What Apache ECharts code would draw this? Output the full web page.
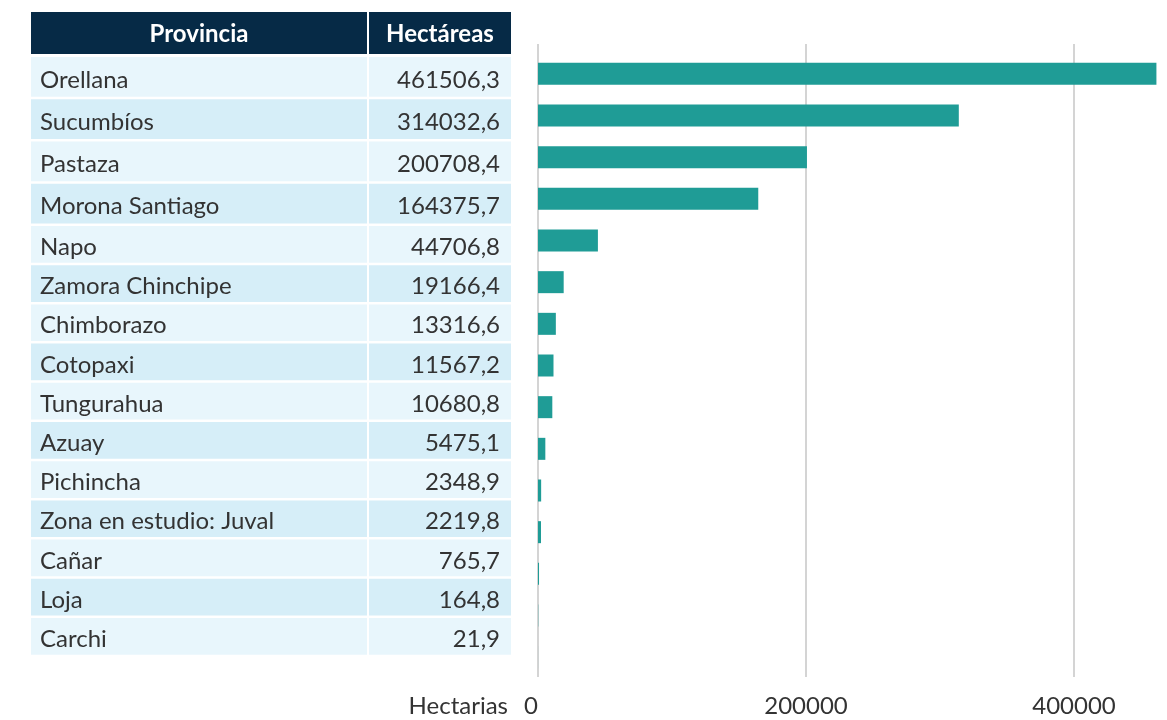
<!DOCTYPE html>
<html>
<head>
<meta charset="utf-8">
<script src="https://cdn.jsdelivr.net/npm/echarts@6/dist/echarts.min.js"></script>
<style>
  html, body { margin: 0; padding: 0; background: #ffffff; }
  #chart { width: 1167px; height: 720px; }
</style>
</head>
<body>
<div id="chart"></div>
<script>
// ---- Data ----
const tableHeaders = ['Provincia', 'Hectáreas'];
const provinces = [
  'Orellana', 'Sucumbíos', 'Pastaza', 'Morona Santiago', 'Napo',
  'Zamora Chinchipe', 'Chimborazo', 'Cotopaxi', 'Tungurahua', 'Azuay',
  'Pichincha', 'Zona en estudio: Juval', 'Cañar', 'Loja', 'Carchi'
];
const hectares = [
  461506.3, 314032.6, 200708.4, 164375.7, 44706.8,
  19166.4, 13316.6, 11567.2, 10680.8, 5475.1,
  2348.9, 2219.8, 765.7, 164.8, 21.9
];
const xAxisTitle = 'Hectarias';
const xTickInterval = 200000;

// ---- Layout / style ----
const FONT = 'Lato, "Noto Sans", sans-serif';
const TEXT = '#333333';
const NAVY = '#062a46';
const ROW_A = '#e8f6fc';
const ROW_B = '#d6eef8';
const BAR = '#1f9c96';
const GRID_LINE = '#d4d4d4';
const LEFT_COL_W = 336;
const COL_GAP = 2;
const ROW_GAP = 2.5;
const SPLIT = 4; // table body drawn in two blocks

function fmt(v) { return v.toFixed(1).replace('.', ','); }

function makeRowRenderer(offset) {
  return function (params, api) {
    const g = offset + params.dataIndex;
    const c = api.coord([0, api.value(1)]);
    const band = api.size([0, 1])[1];
    const cs = params.coordSys;
    const top = c[1] - band / 2;
    const h = band - ROW_GAP;
    const fill = g % 2 === 0 ? ROW_A : ROW_B;
    const ty = top + h / 2 + 3;
    return {
      type: 'group',
      children: [
        { type: 'rect', shape: { x: cs.x, y: top, width: LEFT_COL_W, height: h }, style: { fill: fill } },
        { type: 'rect', shape: { x: cs.x + LEFT_COL_W + COL_GAP, y: top, width: cs.width - LEFT_COL_W - COL_GAP, height: h }, style: { fill: fill } },
        { type: 'text', style: { text: provinces[g], x: cs.x + 9, y: ty, align: 'left', verticalAlign: 'middle', fill: TEXT, fontSize: 24, fontFamily: FONT } },
        { type: 'text', style: { text: fmt(hectares[g]), x: cs.x + cs.width - 11, y: ty, align: 'right', verticalAlign: 'middle', fill: TEXT, fontSize: 24, fontFamily: FONT } }
      ]
    };
  };
}

const namesA = provinces.slice(0, SPLIT);
const namesB = provinces.slice(SPLIT);

const chart = echarts.init(document.getElementById('chart'), null, { renderer: 'canvas' });

const option = {
  backgroundColor: '#ffffff',
  animation: false,
  grid: [
    // 0: gridlines + axis labels
    { left: 538, top: 44, width: 670, height: 633, outerBoundsMode: 'none', containLabel: false },
    // 1: bars
    { left: 538, top: 53, width: 670, height: 625, outerBoundsMode: 'none', containLabel: false },
    // 2: table block A
    { left: 31, top: 57, width: 480, height: 169, outerBoundsMode: 'none', containLabel: false },
    // 3: table block B
    { left: 31, top: 226, width: 480, height: 431.2, outerBoundsMode: 'none', containLabel: false }
  ],
  xAxis: [
    {
      gridIndex: 0, type: 'value', min: 0, max: 500000, interval: xTickInterval,
      name: xAxisTitle, nameLocation: 'start', nameGap: 30,
      nameTextStyle: { fontSize: 24, color: TEXT, fontFamily: FONT, verticalAlign: 'top', padding: [17, 0, 0, 0] },
      axisLine: { show: false }, axisTick: { show: false },
      axisLabel: { fontSize: 24, color: TEXT, fontFamily: FONT, margin: 17, showMaxLabel: false, alignMinLabel: 'right', formatter: function (v) { return String(v); } },
      splitLine: { show: true, lineStyle: { color: GRID_LINE, width: 2 } }
    },
    { gridIndex: 1, type: 'value', min: 0, max: 500000, interval: xTickInterval, show: false, splitLine: { show: false } },
    { gridIndex: 2, type: 'value', min: 0, max: 1, show: false, splitLine: { show: false } },
    { gridIndex: 3, type: 'value', min: 0, max: 1, show: false, splitLine: { show: false } }
  ],
  yAxis: [
    { gridIndex: 0, type: 'value', show: false, splitLine: { show: false } },
    { gridIndex: 1, type: 'category', data: provinces, inverse: true, show: false },
    { gridIndex: 2, type: 'category', data: namesA, inverse: true, show: false },
    { gridIndex: 3, type: 'category', data: namesB, inverse: true, show: false }
  ],
  series: [
    {
      type: 'bar', xAxisIndex: 1, yAxisIndex: 1,
      data: hectares, barWidth: 22,
      itemStyle: { color: BAR },
      silent: true
    },
    {
      type: 'custom', xAxisIndex: 2, yAxisIndex: 2,
      data: namesA.map((n, i) => [0, i]),
      encode: { x: 0, y: 1 },
      renderItem: makeRowRenderer(0),
      silent: true
    },
    {
      type: 'custom', xAxisIndex: 3, yAxisIndex: 3,
      data: namesB.map((n, i) => [0, i]),
      encode: { x: 0, y: 1 },
      renderItem: makeRowRenderer(SPLIT),
      silent: true
    }
  ],
  graphic: [
    { type: 'rect', shape: { x: 31, y: 12, width: LEFT_COL_W, height: 42 }, style: { fill: NAVY } },
    { type: 'rect', shape: { x: 31 + LEFT_COL_W + COL_GAP, y: 12, width: 480 - LEFT_COL_W - COL_GAP, height: 42 }, style: { fill: NAVY } },
    { type: 'text', style: { text: tableHeaders[0], x: 31 + LEFT_COL_W / 2, y: 34, align: 'center', verticalAlign: 'middle', fill: '#ffffff', fontSize: 24, fontWeight: 'bold', fontFamily: FONT } },
    { type: 'text', style: { text: tableHeaders[1], x: 31 + LEFT_COL_W + COL_GAP + (480 - LEFT_COL_W - COL_GAP) / 2, y: 34, align: 'center', verticalAlign: 'middle', fill: '#ffffff', fontSize: 24, fontWeight: 'bold', fontFamily: FONT } }
  ]
};

chart.setOption(option);
</script>
</body>
</html>
